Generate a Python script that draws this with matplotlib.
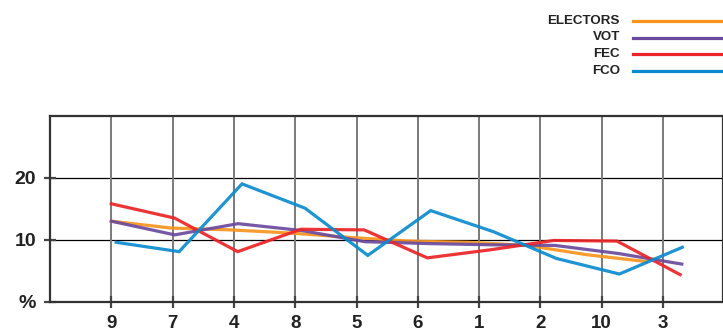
import numpy as np
import matplotlib.pyplot as plt
from matplotlib.lines import Line2D

plt.rcParams['font.family'] = ['Liberation Sans', 'DejaVu Sans']

# данные
categories = ['9', '7', '4', '8', '5', '6', '1', '2', '10', '3']
series_names = ['ELECTORS', 'VOT', 'FEC', 'FCO']
electors = [13.0, 11.9, 11.6, 11.1, 10.4, 9.8, 9.6, 9.1, 7.6, 6.5]
vot = [13.0, 10.8, 12.6, 11.5, 9.7, 9.4, 9.2, 9.1, 7.8, 6.1]
fec = [15.8, 13.5, 8.1, 11.7, 11.6, 7.1, 8.4, 9.9, 9.8, 4.4]
fco = [9.6, 8.1, 19.0, 15.1, 7.5, 14.7, 11.3, 7.0, 4.5, 8.8]
y_ticks = [0, 10, 20]
y_labels = ['%', '10', '20']

colors = ['#F7941D', '#6A4A9E', '#EC2427', '#0A8BD0']

fig = plt.figure(figsize=(7.23, 3.32), dpi=100)
ax = fig.add_axes([50 / 723, 30 / 332, 672.5 / 723, 186.5 / 332])

idx = np.arange(len(categories))
# точки рисуются чуть "растянуто" относительно сетки, как в оригинале
xs = [idx * 0.97, idx * 1.034, idx * 1.031, 0.08 + idx * 1.026]
data = [electors, vot, fec, fco]
for x, y, c in zip(xs, data, colors):
    ax.plot(x, y, color=c, lw=2.3, alpha=0.92, solid_joinstyle='miter', zorder=3)

ax.set_xlim(-1, 9.97)
ax.set_ylim(0, 30)
ax.set_xticks(idx)
ax.set_xticklabels(categories)
ax.set_yticks(y_ticks)
ax.set_yticklabels(y_labels)

for v in y_ticks[1:]:
    ax.axhline(v, color='black', lw=0.9, zorder=1)
for i in idx:
    ax.axvline(i, color='#7a7a7a', lw=1.4, zorder=1)

for s in ax.spines.values():
    s.set_color('#333333')
    s.set_linewidth(1.6)

ax.tick_params(axis='both', direction='inout', length=9, width=1.6,
               color='#444444', labelsize=14, labelcolor='#222222')
ax.tick_params(axis='x', labelsize=13.5, pad=5)
ax.tick_params(axis='y', pad=5.5)
for t in ax.get_xticklabels() + ax.get_yticklabels():
    t.set_fontweight('bold')

# легенда вручную
W, H = 723, 332
ys = [21, 37.5, 54, 70.5]
for name, c, yy in zip(series_names, colors, ys):
    fig.text(620 / W, 1 - yy / H, name, ha='right', va='center',
             fontsize=9.6, fontweight='bold', color='#222222')
    fig.add_artist(Line2D([633 / W, 1.0], [1 - yy / H, 1 - yy / H],
                          color=c, lw=2.3, transform=fig.transFigure))

fig.savefig('out.png', dpi=100)
